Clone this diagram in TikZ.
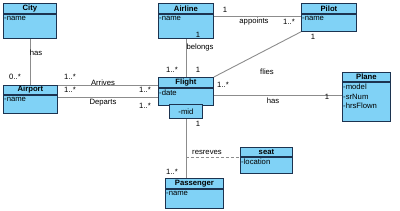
\documentclass[tikz,border=0pt]{standalone}
\usepackage{fontspec}
\setmainfont{Liberation Sans}
\definecolor{boxfill}{HTML}{80D2F6}
\definecolor{boxline}{HTML}{1C3350}
\definecolor{conn}{HTML}{8C8C8C}
\begin{document}
\begin{tikzpicture}[x=1pt,y=-1pt,
  hdr/.style={draw=boxline, fill=boxfill, line width=0.9pt, anchor=north west, inner sep=0pt,
    font=\fontsize{7.7}{8}\selectfont\bfseries},
  bdy/.style={draw=boxline, fill=boxfill, line width=0.9pt, anchor=north west, inner sep=0pt},
  attr/.style={anchor=north west, inner sep=0pt, align=left, font=\fontsize{7.7}{9.5}\selectfont},
  lbl/.style={inner sep=0pt, font=\fontsize{7.7}{8}\selectfont},
  assoc/.style={draw=conn, line width=0.9pt}]
\useasboundingbox (0,0) rectangle (400,210);
% City
\node[hdr, minimum width=53, minimum height=10] (city) at (3,3) {City};
\node[bdy, minimum width=53, minimum height=24] (cityb) at (city.south west) {};
\node[attr] (cityt) at ([xshift=1,yshift=-2]cityb.north west) {-name};
% Airline
\node[hdr, minimum width=55, minimum height=10] (airline) at (158,3) {Airline};
\node[bdy, minimum width=55, minimum height=24] (airlineb) at (airline.south west) {};
\node[attr] (airlinet) at ([xshift=1,yshift=-2]airlineb.north west) {-name};
% Pilot
\node[hdr, minimum width=55, minimum height=10] (pilot) at (301,3) {Pilot};
\node[bdy, minimum width=55, minimum height=17] (pilotb) at (pilot.south west) {};
\node[attr] (pilott) at ([xshift=1,yshift=-2]pilotb.north west) {-name};
% Airport
\node[hdr, minimum width=54, minimum height=9] (airport) at (3,85) {Airport};
\node[bdy, minimum width=54, minimum height=18] (airportb) at (airport.south west) {};
\node[attr] (airportt) at ([xshift=1,yshift=-2]airportb.north west) {-name};
% Flight
\node[hdr, minimum width=55, minimum height=10] (flight) at (158,77) {Flight};
\node[bdy, minimum width=55, minimum height=17] (flightb) at (flight.south west) {};
\node[attr] (flightt) at ([xshift=1,yshift=-2]flightb.north west) {-date};
\node[bdy, minimum width=33, minimum height=14] (mid) at (169,104) {};
\node[lbl] (midt) at (mid.center) {-mid};
% Plane
\node[hdr, minimum width=48, minimum height=9] (plane) at (342,72) {Plane};
\node[bdy, minimum width=48, minimum height=39] (planeb) at (plane.south west) {};
\node[attr] (planet) at ([xshift=1,yshift=-2]planeb.north west) {-model\\-srNum\\-hrsFlown};
% seat
\node[hdr, minimum width=52, minimum height=9] (seat) at (240,147) {seat};
\node[bdy, minimum width=52, minimum height=16] (seatb) at (seat.south west) {};
\node[attr] (seatt) at ([xshift=1,yshift=-2]seatb.north west) {-location};
% Passenger
\node[hdr, minimum width=58, minimum height=10] (passenger) at (165,178) {Passenger};
\node[bdy, minimum width=58, minimum height=19] (passengerb) at (passenger.south west) {};
\node[attr] (passengert) at ([xshift=1,yshift=-2]passengerb.north west) {-name};
% connectors
\draw[assoc] (cityb.south) -- (cityb.south |- airport.north);
\draw[assoc] (airlineb.south) -- (airlineb.south |- flight.north);
\draw[assoc] (airlineb.east |- 0,16) -- (pilotb.west |- 0,16);
\draw[assoc] (flight.north east) -- (pilotb.south west);
\draw[assoc] (airport.north east) -- (flight.west |- airport.north east);
\draw[assoc] (airportb.east |- 0,97) -- (flightb.west |- 0,97);
\draw[assoc] (flightb.east |- 0,95) -- (planeb.west |- 0,95);
\draw[assoc] (mid.south) -- (mid.south |- passenger.north) coordinate[pos=0.65] (rj);
\draw[assoc, dashed, dash pattern=on 3pt off 2pt] (rj) -- (seatb.west |- rj);
% labels
\node[lbl] (l1) at (36,53) {has};
\node[lbl] (l2) at (15,77) {0..*};
\node[lbl] (l3) at (70,77) {1..*};
\node[lbl] (l4) at (70,90) {1..*};
\node[lbl] (l5) at (103,83) {Arrives};
\node[lbl] (l6) at (103,103) {Departs};
\node[lbl] (l7) at (145,90) {1..*};
\node[lbl] (l8) at (145,106) {1..*};
\node[lbl] (l9) at (172,70) {1..*};
\node[lbl] (l10) at (198,70) {1};
\node[lbl] (l11) at (198,35) {1};
\node[lbl] (l12) at (200,48) {belongs};
\node[lbl] (l13) at (225,10) {1};
\node[lbl] (l14) at (254,22) {appoints};
\node[lbl] (l15) at (289,22) {1..*};
\node[lbl] (l16) at (267,72) {flies};
\node[lbl] (l17) at (313,37) {1};
\node[lbl] (l18) at (223,85) {1..*};
\node[lbl] (l19) at (273,101) {has};
\node[lbl] (l20) at (327,97) {1};
\node[lbl] (l21) at (198,124) {1};
\node[lbl] (l22) at (172,172) {1..*};
\node[lbl] (l23) at (207,152) {resreves};
\end{tikzpicture}
\end{document}
